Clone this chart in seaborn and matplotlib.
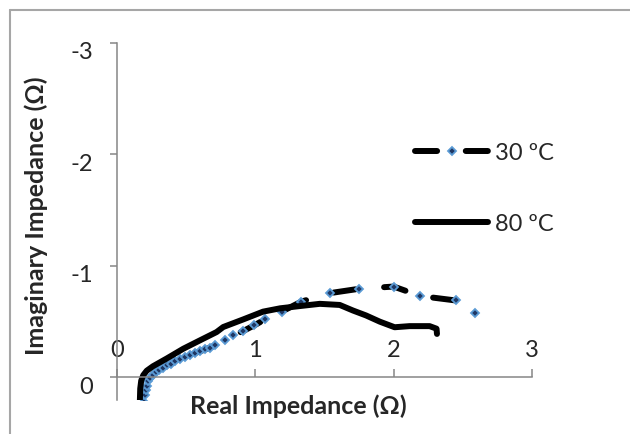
import seaborn as sns
import matplotlib.pyplot as plt
from matplotlib.lines import Line2D
from matplotlib.transforms import ScaledTranslation

# 30 ºC (dashed line with markers)
re_30 = [0.198, 0.202, 0.209, 0.214, 0.226, 0.238, 0.258, 0.282, 0.305, 0.33, 0.359,
         0.388, 0.419, 0.455, 0.491, 0.527, 0.563, 0.599, 0.635, 0.671, 0.708, 0.78,
         0.84, 0.912, 0.991, 1.069, 1.19, 1.333, 1.538, 1.75, 2.0, 2.193, 2.45, 2.59]
im_30 = [0.22, 0.161, 0.116, 0.077, 0.036, 0.005, -0.024, -0.048, -0.069, -0.087, -0.108,
         -0.123, -0.143, -0.161, -0.179, -0.197, -0.219, -0.233, -0.251, -0.266, -0.287, -0.338,
         -0.376, -0.416, -0.466, -0.52, -0.59, -0.68, -0.756, -0.795, -0.815, -0.73, -0.69, -0.577]

# 80 ºC (solid line)
re_80 = [0.165, 0.168, 0.175, 0.19, 0.215, 0.26, 0.36, 0.479, 0.599, 0.72, 0.768, 0.912,
         1.056, 1.18, 1.321, 1.466, 1.61, 1.706, 1.80, 1.90, 2.007, 2.115, 2.26, 2.31, 2.313]
im_80 = [0.22, 0.1, 0.03, -0.02, -0.06, -0.1, -0.17, -0.257, -0.332, -0.407, -0.452, -0.52,
         -0.59, -0.62, -0.64, -0.66, -0.65, -0.60, -0.556, -0.50, -0.45, -0.46, -0.46, -0.437, -0.39]

labels = ["30 ºC", "80 ºC"]
xticks = [0, 1, 2, 3]
yticks = [-3, -2, -1, 0]

sns.set_theme(style="white")
plt.rcParams['font.family'] = ['Lato', 'DejaVu Sans']
plt.rcParams['axes.unicode_minus'] = False

fig = plt.figure(figsize=(6.3, 4.35), dpi=100)
ax = fig.add_axes([117/630, 1 - 400.7/435, 415/630, 356.7/435])

gray = "#868686"
fs = 17
mk = dict(marker="D", markersize=4.2, markerfacecolor="#1F3763",
          markeredgecolor="#5B9BD5", markeredgewidth=1.3)

sns.lineplot(x=re_30, y=im_30, sort=False, estimator=None, ax=ax, color="black", lw=4.3)
l30 = ax.lines[-1]
l30.set_linestyle((4.2, (3.7, 4.8)))
l30.set_dash_capstyle("round")
l30.set(**mk)

sns.lineplot(x=re_80, y=im_80, sort=False, estimator=None, ax=ax, color="black", lw=4.3)
l80 = ax.lines[-1]
l80.set_solid_capstyle("round")
l80.set_solid_joinstyle("round")

ax.set_xlim(0, 3)
ax.set_ylim(0.2, -3)
ax.set_xticks(xticks)
ax.set_yticks(yticks)

for s in ["top", "right"]:
    ax.spines[s].set_visible(False)
for s in ["left", "bottom"]:
    ax.spines[s].set_color(gray)
    ax.spines[s].set_linewidth(1.1)
ax.spines["bottom"].set_position(("data", 0))

ax.tick_params(axis="x", direction="in", length=6, width=1.1, color=gray,
               labelsize=fs, pad=-28, bottom=True)
ax.tick_params(axis="y", direction="out", length=5, width=1.1, color=gray,
               labelsize=fs, pad=12, left=True)
for t in ax.get_yticklabels():
    t.set_transform(t.get_transform() + ScaledTranslation(0, -5/72, fig.dpi_scale_trans))

ax.set_xlabel("Real Impedance (Ω)", fontsize=18, fontweight="bold")
ax.set_ylabel("Imaginary Impedance (Ω)", fontsize=18, fontweight="bold")
ax.xaxis.label.set_va("center")
ax.yaxis.label.set_va("center")
ax.xaxis.set_label_coords(0.436, -0.015)
ax.yaxis.set_label_coords(-0.195, 0.519)

# legend handles (dash pattern without the plot's phase offset)
h30 = Line2D([], [], color="black", lw=4.3, linestyle=(0, (3.7, 4.8)),
             dash_capstyle="round", **mk)
h80 = Line2D([], [], color="black", lw=4.3, solid_capstyle="round")
ax.legend([h30, h80], labels, loc="center left", bbox_to_anchor=(415/630, 1 - 189/435),
          bbox_transform=fig.transFigure, frameon=False, fontsize=fs,
          handlelength=3.1, handletextpad=0.3, labelspacing=2.1,
          borderpad=0, borderaxespad=0, numpoints=1)

# outer chart border (only top and left visible)
fig.add_artist(Line2D([10/630, 10/630], [0, 1 - 10.7/435], color="#A6A6A6", lw=1.5))
fig.add_artist(Line2D([10/630, 1], [1 - 10.7/435, 1 - 10.7/435], color="#A6A6A6", lw=1.5))

fig.savefig("out.png", dpi=100)
